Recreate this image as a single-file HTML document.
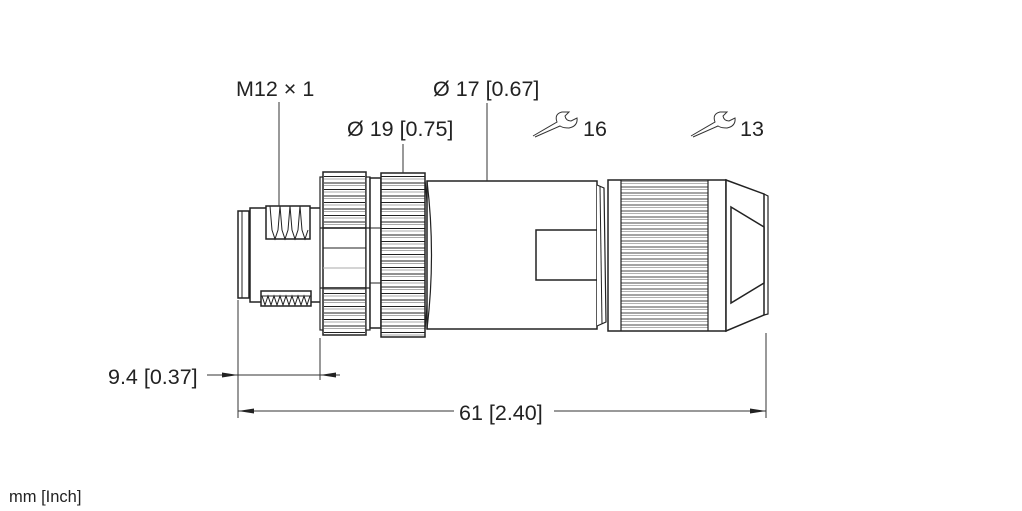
<!DOCTYPE html>
<html><head><meta charset="utf-8"><style>
html,body{margin:0;padding:0;background:#fff;}
svg{display:block;}
text{font-family:"Liberation Sans",sans-serif;fill:#222;}
</style></head><body>
<svg width="1022" height="511" viewBox="0 0 1022 511" xmlns="http://www.w3.org/2000/svg">
<defs>
<pattern id="kn" patternUnits="userSpaceOnUse" width="10" height="6.5" y="0">
<rect width="10" height="6.5" fill="#fff"/>
<line x1="0" y1="1" x2="10" y2="1" stroke="#222" stroke-width="1"/>
<line x1="0" y1="3.5" x2="10" y2="3.5" stroke="#aaa" stroke-width="1"/>
</pattern>
<pattern id="kn2" patternUnits="userSpaceOnUse" width="10" height="6" y="0">
<rect width="10" height="6" fill="#fff"/>
<line x1="0" y1="1" x2="10" y2="1" stroke="#333" stroke-width="0.9"/>
<line x1="0" y1="3.5" x2="10" y2="3.5" stroke="#aaa" stroke-width="0.9"/>
</pattern>
</defs>
<g fill="none" stroke="#222" stroke-width="1.5">
<rect x="238" y="211" width="11" height="87" fill="#fff"/>
<line x1="242" y1="211" x2="242" y2="298" stroke-width="1"/>
<rect x="250" y="208" width="71" height="94" fill="#fff"/>
<rect x="266" y="206" width="44" height="33" fill="#fff"/>
<path d="M270 206 L272 230 L275 239 L278 230 L280 206 M280 206 L282 230 L285 239 L288 230 L290 206 M290 206 L292 230 L295 239 L298 230 L300 206 M300 206 L302 230 L305 239 L308 230" stroke-width="1"/>
<rect x="261" y="291" width="50" height="15" fill="#fff"/>
<path d="M262 296 L265 305 L268 296 L271 305 L274 296 L277 305 L280 296 L283 305 L286 296 L289 305 L292 296 L295 305 L298 296 L301 305 L304 296 L307 305 L310 296" stroke-width="1"/>
<line x1="261" y1="296" x2="311" y2="296" stroke-width="1"/>
<rect x="320" y="177" width="4" height="153" fill="#fff" stroke-width="1.2"/>
<rect x="323" y="172" width="43" height="163" fill="#fff"/>
<rect x="324" y="173" width="41" height="55" fill="url(#kn)" stroke="none"/>
<rect x="324" y="288" width="41" height="46" fill="url(#kn)" stroke="none"/>
<line x1="323" y1="228" x2="366" y2="228"/>
<line x1="323" y1="288" x2="366" y2="288"/>
<line x1="323" y1="248" x2="366" y2="248" stroke-width="1"/>
<line x1="323" y1="268" x2="366" y2="268" stroke="#aaa" stroke-width="1"/>
<rect x="366" y="177" width="4" height="153" fill="#fff" stroke-width="1.2"/>
<line x1="320" y1="228" x2="370" y2="228" stroke-width="1.2"/>
<line x1="320" y1="288" x2="370" y2="288" stroke-width="1.2"/>
<rect x="370" y="178" width="11" height="150" fill="#fff"/>
<line x1="370" y1="228" x2="381" y2="228" stroke-width="1"/>
<line x1="370" y1="283" x2="381" y2="283" stroke-width="1"/>
<rect x="381" y="173" width="44" height="164" fill="url(#kn)"/>
<path d="M425 181 Q433 250 425 329" stroke-width="1.2"/>
<rect x="427" y="181" width="170" height="148" fill="#fff"/>
<path d="M427 181 Q436 255 427 329" stroke-width="1.2"/>
<rect x="536" y="230" width="61" height="50" fill="#fff"/>
<path d="M597 185 L604 188 L606 322 L597 326" fill="#fff" stroke-width="1.2"/>
<line x1="600" y1="186" x2="602" y2="324" stroke-width="1"/>
<rect x="608" y="180" width="118" height="151" fill="#fff"/>
<rect x="621" y="181" width="87" height="149" fill="url(#kn2)" stroke="none"/>
<line x1="621" y1="180" x2="621" y2="331" stroke-width="1.2"/>
<line x1="708" y1="180" x2="708" y2="331" stroke-width="1.2"/>
<path d="M726 180 L764 194 L764 315 L726 331 Z" fill="#fff"/>
<path d="M731 207 L764 227 L764 283 L731 303 Z" fill="#fff"/>
<path d="M764 194 L768 196 L768 314 L764 315" stroke-width="1.2"/>
</g>
<g stroke="#333" stroke-width="1" fill="none">
<line x1="279" y1="102" x2="279" y2="206"/>
<line x1="487" y1="103" x2="487" y2="181"/>
<line x1="403" y1="144" x2="403" y2="173"/>
<line x1="238" y1="300" x2="238" y2="418"/>
<line x1="320" y1="338" x2="320" y2="380"/>
<line x1="766" y1="333" x2="766" y2="418"/>
<line x1="207" y1="375" x2="340" y2="375"/>
<line x1="238" y1="411" x2="454" y2="411"/>
<line x1="554" y1="411" x2="766" y2="411"/>
</g>
<g fill="#222">
<polygon points="238,375 222,372.5 222,377.5"/>
<polygon points="320,375 336,372.5 336,377.5"/>
<polygon points="238,411 254,408.5 254,413.5"/>
<polygon points="766,411 750,408.5 750,413.5"/>
</g>
<g fill="none" stroke="#333" stroke-width="1">
<path d="M533 136 L557 122 Q554 114 562 112 L569 112 L565 116 Q566 121 571 121 L577 118 Q578 126 569 128 Q563 128 560 126 L535 137"/>
<path d="M691 136 L715 122 Q712 114 720 112 L727 112 L723 116 Q724 121 729 121 L735 118 Q736 126 727 128 Q721 128 718 126 L693 137"/>
</g>
<g font-size="21.5">
<text x="236" y="96">M12 × 1</text>
<text x="433" y="96">Ø 17 [0.67]</text>
<text x="347" y="136">Ø 19 [0.75]</text>
<text x="583" y="136">16</text>
<text x="740" y="136">13</text>
<text x="108" y="384">9.4 [0.37]</text>
<text x="459" y="420">61 [2.40]</text>
</g>
<text x="9" y="502" font-size="16.5">mm [Inch]</text>
</svg>
</body></html>
